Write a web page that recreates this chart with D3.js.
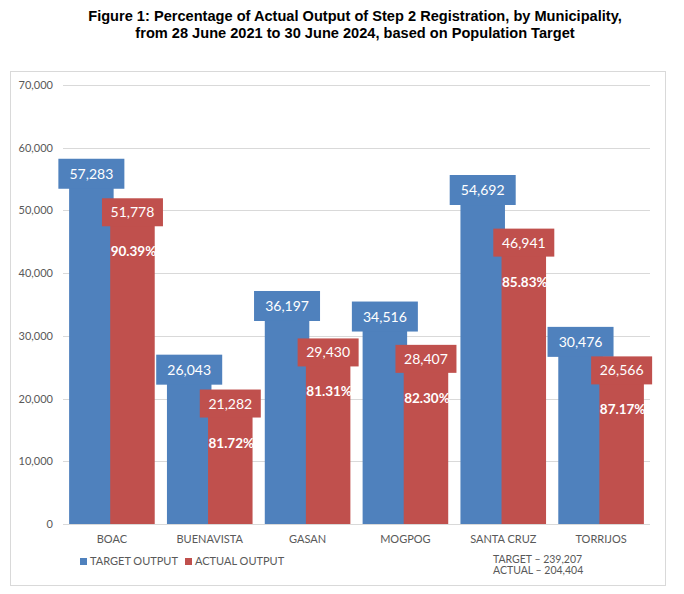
<!DOCTYPE html>
<html><head><meta charset="utf-8">
<script src="https://cdn.jsdelivr.net/npm/d3@7"></script>
<style>body{margin:0;background:#fff}</style>
</head><body><svg id="c" width="684" height="594"></svg>
<script>
const categories = ["BOAC","BUENAVISTA","GASAN","MOGPOG","SANTA CRUZ","TORRIJOS"];
const targetValues = [57283,26043,36197,34516,54692,30476];
const actualValues = [51778,21282,29430,28407,46941,26566];
const percentLabels = ["90.39%","81.72%","81.31%","82.30%","85.83%","87.17%"];
const yTicks = [0,10000,20000,30000,40000,50000,60000,70000];
const seriesNames = ["TARGET OUTPUT","ACTUAL OUTPUT"];
const totalLines = ["TARGET \u2013 239,207","ACTUAL \u2013 204,404"];
const titleLines = ["Figure 1: Percentage of Actual Output of Step 2 Registration, by Municipality,","from 28 June 2021 to 30 June 2024, based on Population Target"];

const BLUE="#4F81BD", RED="#C0504D", GRID="#D9D9D9", TXT="#595959";
const F="Lato, 'Open Sans', sans-serif";
const svg=d3.select("#c");

svg.append("g").selectAll("text").data(titleLines).join("text")
  .attr("x",355).attr("y",(d,i)=>21+i*17).attr("text-anchor","middle")
  .attr("font-family","'Liberation Sans Narrow','Liberation Sans',Arial,sans-serif")
  .attr("font-weight","bold").attr("font-size",14.6).attr("fill","#000").text(d=>d);

svg.append("rect").attr("x",10.5).attr("y",71.5).attr("width",655).attr("height",514)
  .attr("fill","#fff").attr("stroke",GRID);

const x0=63,x1=650;
const y=d3.scaleLinear().domain([0,70000]).range([524,85]);
const xb=d3.scaleBand().domain(categories).range([x0,x1]).paddingInner(0.125).paddingOuter(0.0625);

const g=svg.append("g");
g.selectAll("line.grid").data(yTicks).join("line")
  .attr("x1",x0).attr("x2",x1).attr("y1",d=>Math.round(y(d))+0.5).attr("y2",d=>Math.round(y(d))+0.5)
  .attr("stroke",GRID).attr("stroke-width",1);

const yAxis=d3.axisLeft(y).tickValues(yTicks).tickSize(0).tickPadding(10).tickFormat(d3.format(","));
const ya=svg.append("g").attr("transform",`translate(${x0},0)`).call(yAxis);
ya.select(".domain").remove();
ya.selectAll("text").attr("font-family",F).attr("font-size",11).attr("fill",TXT);

const bw=xb.bandwidth();
const barW=bw*0.52, ov=bw*0.04;
const bx=(c,s)=> xb(c) + (s===0?0:barW-ov);

g.selectAll("rect.t").data(categories).join("rect")
  .attr("x",c=>bx(c,0)).attr("width",barW)
  .attr("y",(c,i)=>y(targetValues[i])).attr("height",(c,i)=>y(0)-y(targetValues[i])).attr("fill",BLUE);
g.selectAll("rect.a").data(categories).join("rect")
  .attr("x",c=>bx(c,1)).attr("width",barW)
  .attr("y",(c,i)=>y(actualValues[i])).attr("height",(c,i)=>y(0)-y(actualValues[i])).attr("fill",RED);

const fmt=d3.format(",");
function labels(vals,s,color,boxW,boxH,off){
  const lg=svg.append("g");
  categories.forEach((c,i)=>{
    const cx=bx(c,s)+barW/2, cy=y(vals[i])+off;
    lg.append("rect").attr("x",cx-boxW/2).attr("y",cy-boxH/2).attr("width",boxW).attr("height",boxH).attr("fill",color);
    lg.append("text").attr("x",cx).attr("y",cy+5).attr("text-anchor","middle")
      .attr("font-family",F).attr("font-size",14).attr("fill","#fff").text(fmt(vals[i]));
  });
}
labels(targetValues,0,BLUE,66,30,9);
labels(actualValues,1,RED,61,28,13);

svg.append("g").selectAll("text").data(categories).join("text")
  .attr("x",(c)=>bx(c,1)+barW/2+1).attr("y",(c,i)=>y(actualValues[i])+57).attr("text-anchor","middle")
  .attr("font-family",F).attr("font-weight","bold").attr("font-size",13.5).attr("fill","#fff")
  .text((c,i)=>percentLabels[i]);

g.append("line").attr("x1",x0).attr("x2",x1).attr("y1",524.5).attr("y2",524.5).attr("stroke",GRID);

svg.append("g").selectAll("text").data(categories).join("text")
  .attr("x",c=>xb(c)+bw/2).attr("y",543).attr("text-anchor","middle")
  .attr("font-family",F).attr("font-size",11).attr("fill",TXT).text(d=>d);

const leg=svg.append("g");
const lx=[80,185];
seriesNames.forEach((n,i)=>{
  leg.append("rect").attr("x",lx[i]).attr("y",558).attr("width",7).attr("height",7).attr("fill",i?RED:BLUE);
  leg.append("text").attr("x",lx[i]+10).attr("y",565).attr("font-family",F).attr("font-size",11).attr("fill",TXT).text(n);
});

svg.append("g").selectAll("text").data(totalLines).join("text")
  .attr("x",493).attr("y",(d,i)=>563+i*11).attr("font-family",F).attr("font-size",10.5).attr("fill",TXT).text(d=>d);
</script></body></html>
